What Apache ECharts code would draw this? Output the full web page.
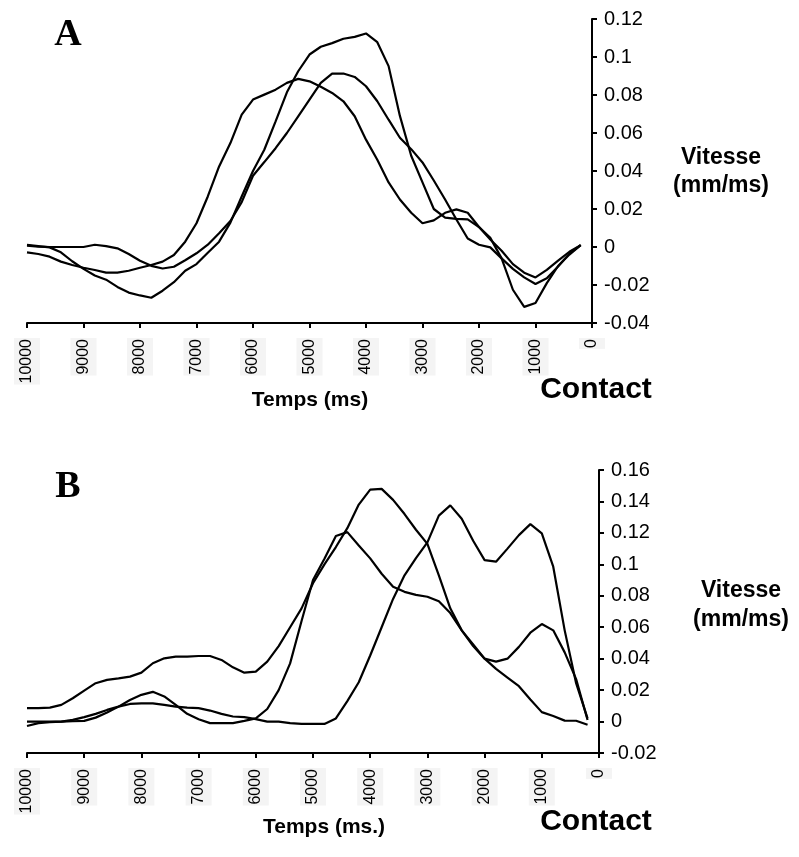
<!DOCTYPE html>
<html>
<head>
<meta charset="utf-8">
<script src="https://cdn.jsdelivr.net/npm/echarts@6/dist/echarts.min.js"></script>
<style>
html,body{margin:0;padding:0;background:#fff;}
#chart{width:799px;height:857px;}
</style>
</head>
<body>
<div id="chart"></div>
<script>
// time axis (ms before contact), sampled every 20 ms
var times = [1000,980,960,940,920,900,880,860,840,820,800,780,760,740,720,700,680,660,640,620,600,580,560,540,520,500,480,460,440,420,400,380,360,340,320,300,280,260,240,220,200,180,160,140,120,100,80,60,40,20];

// Panel A series (mm/ms)
var a1 = [-0.0028,-0.0037,-0.0051,-0.0077,-0.0095,-0.0109,-0.0121,-0.0135,-0.0135,-0.0125,-0.0109,-0.0095,-0.0077,-0.0042,0.0028,0.0125,0.0266,0.0424,0.0547,0.0697,0.0776,0.0802,0.0828,0.0864,0.0885,0.0872,0.0843,0.0811,0.0767,0.0688,0.0565,0.0459,0.0340,0.0250,0.0180,0.0125,0.0140,0.0180,0.0198,0.0180,0.0105,0.0040,-0.0020,-0.0090,-0.0135,-0.0160,-0.0120,-0.0072,-0.0025,0.0010];
var a2 = [0.0007,0.0002,0,0,0,0,0.0012,0.0005,-0.0007,-0.0037,-0.0072,-0.0099,-0.0113,-0.0104,-0.0070,-0.0033,0.0012,0.0072,0.0137,0.0236,0.0375,0.0447,0.0520,0.0600,0.0688,0.0776,0.0864,0.0913,0.0913,0.0895,0.0846,0.0767,0.0670,0.0575,0.0515,0.0445,0.0350,0.0250,0.0145,0.0045,0.0012,-0.0002,-0.0060,-0.0115,-0.0160,-0.0195,-0.0165,-0.0103,-0.0035,0.0010];
var a3 = [0.0011,0.0005,-0.0002,-0.0028,-0.0075,-0.0115,-0.0150,-0.0172,-0.0210,-0.0240,-0.0255,-0.0267,-0.0230,-0.0185,-0.0125,-0.0090,-0.0030,0.0028,0.0128,0.0266,0.0400,0.0512,0.0661,0.0814,0.0925,0.1013,0.1054,0.1073,0.1096,0.1106,0.1124,0.1078,0.0952,0.0690,0.0480,0.0340,0.0200,0.0155,0.0148,0.0145,0.0105,0.0048,-0.0060,-0.0225,-0.0315,-0.0295,-0.0190,-0.0100,-0.0040,0.0010];

// Panel B series (mm/ms)
var b1 = [0.0085,0.0085,0.0089,0.0106,0.0148,0.0197,0.0244,0.0265,0.0275,0.0286,0.0311,0.0371,0.0402,0.0413,0.0413,0.0417,0.0417,0.0392,0.0345,0.0311,0.0318,0.0381,0.0480,0.0600,0.0720,0.0880,0.1000,0.1110,0.1230,0.1380,0.1475,0.1480,0.1410,0.1320,0.1220,0.1130,0.0930,0.0720,0.0580,0.0480,0.0400,0.0335,0.0280,0.0225,0.0140,0.0060,0.0035,0.0006,0.0005,-0.0020];
var b2 = [-0.0028,-0.0010,-0.0004,0,0.0011,0.0028,0.0049,0.0074,0.0095,0.0112,0.0116,0.0116,0.0106,0.0095,0.0089,0.0085,0.0070,0.0049,0.0032,0.0028,0.0015,0,0,-0.0010,-0.0015,-0.0015,-0.0015,0.0020,0.0130,0.0250,0.0420,0.0600,0.0780,0.0930,0.1040,0.1140,0.1310,0.1375,0.1290,0.1150,0.1027,0.1017,0.1100,0.1186,0.1256,0.1197,0.0985,0.0580,0.0244,0.0020];
var b3 = [0,0,0,0,0.0002,0.0004,0.0025,0.0058,0.0095,0.0137,0.0170,0.0189,0.0160,0.0106,0.0049,0.0015,-0.0010,-0.0010,-0.0010,0.0004,0.0020,0.0080,0.0200,0.0370,0.0640,0.0900,0.1035,0.1180,0.1205,0.1120,0.1038,0.0940,0.0858,0.0825,0.0806,0.0794,0.0765,0.0690,0.0580,0.0490,0.0400,0.0381,0.0400,0.0475,0.0565,0.0620,0.0580,0.0440,0.0270,0.0010];

// tick labels as printed on the time axes
var xTickValues = [0,100,200,300,400,500,600,700,800,900,1000];
var xTickLabels = ['0','1000','2000','3000','4000','5000','6000','7000','8000','9000','10000'];

function pairs(ys){ return times.map(function(t,i){ return [t, ys[i]]; }); }
function xLabel(v){ var i = xTickValues.indexOf(Math.round(v)); return i >= 0 ? xTickLabels[i] : ''; }
function yLabel(v){ return String(parseFloat(v.toFixed(2))); }

var FONT = '"Liberation Sans", Arial, sans-serif';
var axisLineStyle = {color:'#000', width:2};

function makeX(gi){
  return {
    gridIndex: gi, type:'value', inverse:true, min:0, max:1000, interval:100,
    axisLine:{show:true, onZero:false, lineStyle:axisLineStyle},
    axisTick:{show:true, length:5, lineStyle:{color:'#000', width:2}},
    splitLine:{show:false},
    axisLabel:{rotate:90, margin:15, color:'#000', fontFamily:FONT, fontSize:16,
      backgroundColor:'#f4f4f4', padding:[5,1,5,1], formatter: xLabel}
  };
}
function makeY(gi, mn, mx){
  return {
    gridIndex: gi, type:'value', position:'right', min:mn, max:mx, interval:0.02,
    axisLine:{show:true, onZero:false, lineStyle:axisLineStyle},
    axisTick:{show:true, length:5, lineStyle:{color:'#000', width:2}},
    splitLine:{show:false},
    axisLabel:{margin:12, color:'#000', fontFamily:FONT, fontSize:20, formatter: yLabel}
  };
}
function line(xi, ys){
  return {type:'line', xAxisIndex:xi, yAxisIndex:xi, data:pairs(ys), symbol:'none',
    lineStyle:{color:'#000', width:2.2}, animation:false, silent:true};
}
function txt(text, x, y, font, align){
  return {type:'text', style:{text:text, x:x, y:y, font:font, fill:'#000',
    align:align||'center', verticalAlign:'middle', textAlign:align||'center', textVerticalAlign:'middle'}};
}

var chart = echarts.init(document.getElementById('chart'), null, {renderer:'canvas'});
chart.setOption({
  animation:false,
  backgroundColor:'#fff',
  grid:[
    {left:27, top:19, width:565, height:304},
    {left:27, top:470, width:572, height:283}
  ],
  xAxis:[makeX(0), makeX(1)],
  yAxis:[makeY(0, -0.04, 0.12), makeY(1, -0.02, 0.16)],
  series:[line(0,a1), line(0,a2), line(0,a3), line(1,b1), line(1,b2), line(1,b3)],
  graphic:[
    txt('A', 68, 35, 'bold 38px "Liberation Serif", "Times New Roman", serif'),
    txt('B', 68, 487, 'bold 38px "Liberation Serif", "Times New Roman", serif'),
    txt('Vitesse', 721, 158, 'bold 23px ' + FONT),
    txt('(mm/ms)', 721, 186, 'bold 23px ' + FONT),
    txt('Vitesse', 741, 591, 'bold 23px ' + FONT),
    txt('(mm/ms)', 741, 620, 'bold 23px ' + FONT),
    txt('Temps (ms)', 310, 400, 'bold 21px ' + FONT),
    txt('Temps (ms.)', 324, 827, 'bold 21px ' + FONT),
    txt('Contact', 596, 390, 'bold 30px ' + FONT),
    txt('Contact', 596, 822, 'bold 30px ' + FONT)
  ]
});
</script>
</body>
</html>
